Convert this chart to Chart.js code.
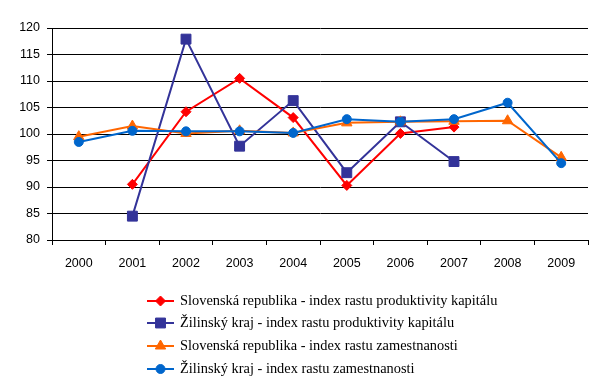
<!DOCTYPE html>
<html>
<head>
<meta charset="utf-8">
<script src="https://cdn.jsdelivr.net/npm/chart.js@4"></script>
<style>
html,body{margin:0;padding:0;background:#fff;}
canvas{display:block;}
</style>
</head>
<body>
<canvas id="c" width="604" height="389"></canvas>
<script>
const years = ['2000','2001','2002','2003','2004','2005','2006','2007','2008','2009'];
const srProduktivita = [null, 90.5, 104.2, 110.5, 103.1, 90.3, 100.1, 101.3, null, null];
const zkProduktivita = [null, 84.5, 117.9, 97.7, 106.3, 92.7, 102.3, 94.8, null, null];
const srZamestnanost = [99.5, 101.5, 100.1, 100.6, 100.2, 102.1, 102.3, 102.4, 102.5, 95.6];
const zkZamestnanost = [98.5, 100.6, 100.5, 100.5, 100.2, 102.8, 102.3, 102.8, 105.9, 94.5];
const seriesLabels = [
  'Slovenská republika - index rastu produktivity kapitálu',
  'Žilinský kraj - index rastu produktivity kapitálu',
  'Slovenská republika - index rastu zamestnanosti',
  'Žilinský kraj - index rastu zamestnanosti'
];

const legendPlugin = {
  id: 'customLegend',
  afterDraw(chart) {
    const ctx = chart.ctx;
    const rows = [301, 323, 346, 369];
    chart.data.datasets.forEach((ds, i) => {
      const y = rows[i];
      ctx.save();
      ctx.strokeStyle = ds.borderColor;
      ctx.lineWidth = 2;
      ctx.beginPath();
      ctx.moveTo(147, y);
      ctx.lineTo(174, y);
      ctx.stroke();
      ctx.fillStyle = ds.pointBackgroundColor;
      ctx.strokeStyle = ds.pointBorderColor;
      ctx.lineWidth = 1;
      Chart.helpers.drawPoint(ctx, {pointStyle: ds.pointStyle, radius: ds.pointRadius, borderWidth: 1}, 160.5, y);
      ctx.fillStyle = '#000';
      ctx.font = '14.4px "Liberation Serif"';
      ctx.textBaseline = 'middle';
      ctx.textAlign = 'left';
      ctx.fillText(ds.label, 180, y);
      ctx.restore();
    });
  }
};

function ds(label, data, color, style, r, order) {
  return {
    label, data,
    borderColor: color,
    backgroundColor: color,
    pointBackgroundColor: color,
    pointBorderColor: color,
    pointStyle: style,
    pointRadius: r,
    pointBorderWidth: 1,
    borderWidth: 2,
    tension: 0,
    spanGaps: false,
    order
  };
}

new Chart(document.getElementById('c'), {
  type: 'line',
  data: {
    labels: years,
    datasets: [
      ds(seriesLabels[0], srProduktivita, '#FF0000', 'rectRot', 5, 4),
      ds(seriesLabels[1], zkProduktivita, '#333399', 'rect', 7, 3),
      ds(seriesLabels[2], srZamestnanost, '#FF6600', 'triangle', 6, 2),
      ds(seriesLabels[3], zkZamestnanost, '#0066CC', 'circle', 4.5, 1)
    ]
  },
  options: {
    responsive: false,
    animation: false,
    events: [],
    layout: { padding: { top: 28, right: 16, bottom: 119, left: 0 } },
    plugins: {
      legend: { display: false },
      tooltip: { enabled: false }
    },
    scales: {
      x: {
        offset: true,
        grid: { display: true, drawOnChartArea: false, drawTicks: true, tickLength: 5, offset: true, color: '#000', lineWidth: 1 },
        border: { display: true, color: '#000', width: 1 },
        ticks: { color: '#000', font: { family: '"Liberation Sans"', size: 12.5 }, padding: 11, maxRotation: 0, autoSkip: false },
        afterFit(s) { s.height = 30; }
      },
      y: {
        min: 80, max: 120,
        grid: { color: '#000', lineWidth: 1, drawTicks: true, tickLength: 5 },
        border: { display: true, color: '#000', width: 1 },
        ticks: { stepSize: 5, color: '#000', font: { family: '"Liberation Sans"', size: 12.5 }, padding: 7 },
        afterFit(s) { s.width = 52; }
      }
    }
  },
  plugins: [legendPlugin]
});
</script>
</body>
</html>
